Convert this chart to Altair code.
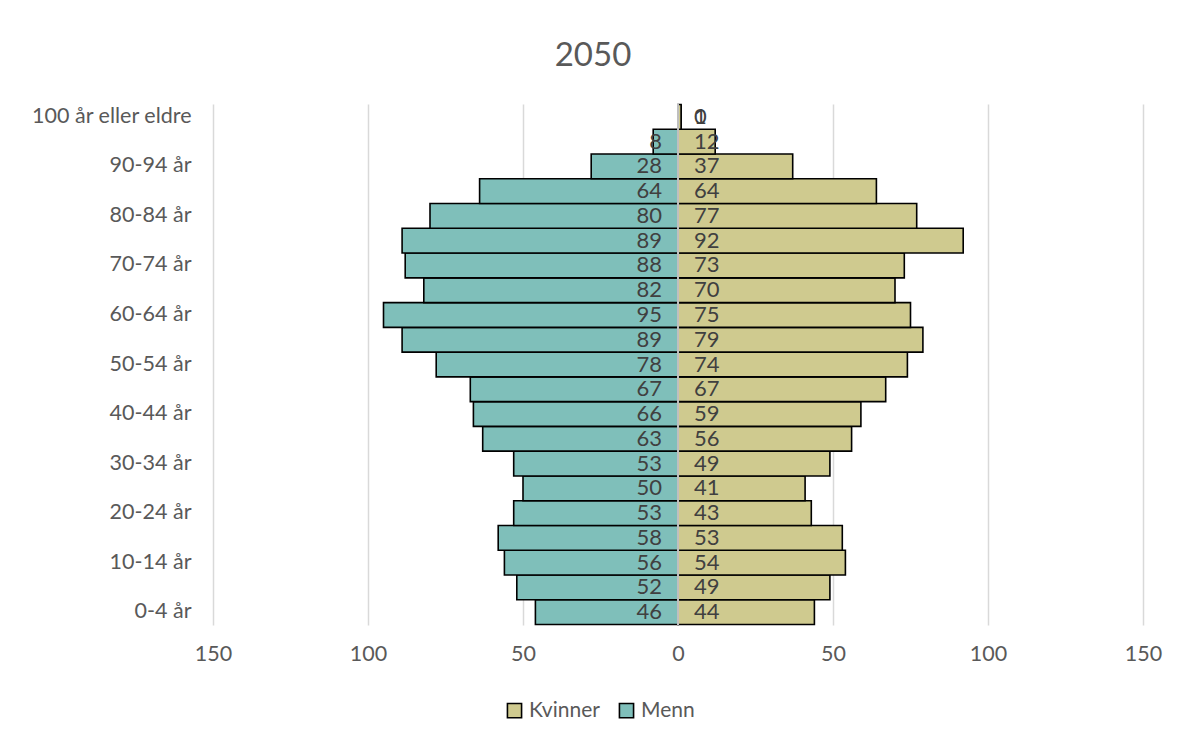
import altair as alt
import pandas as pd

ages = ["0-4 år", "5-9 år", "10-14 år", "15-19 år", "20-24 år", "25-29 år",
        "30-34 år", "35-39 år", "40-44 år", "45-49 år", "50-54 år", "55-59 år",
        "60-64 år", "65-69 år", "70-74 år", "75-79 år", "80-84 år", "85-89 år",
        "90-94 år", "95-99 år", "100 år eller eldre"]
menn = [46, 52, 56, 58, 53, 50, 53, 63, 66, 67, 78, 89, 95, 82, 88, 89, 80, 64, 28, 8, 0]
kvinner = [44, 49, 54, 53, 43, 41, 49, 56, 59, 67, 74, 79, 75, 70, 73, 92, 77, 64, 37, 12, 1]
shown_labels = ages[::2]

rows = []
for a, m, k in zip(ages, menn, kvinner):
    rows.append({"age": a, "sex": "Menn", "v": m})
    rows.append({"age": a, "sex": "Kvinner", "v": k})
df = pd.DataFrame(rows)

FONT = "Lato"
order = list(reversed(ages))

base = alt.Chart(df).transform_calculate(
    xv="datum.sex === 'Menn' ? -datum.v : datum.v"
)

y_enc = alt.Y("age:N", sort=order, title=None,
              scale=alt.Scale(paddingInner=0, paddingOuter=0.02),
              axis=alt.Axis(values=shown_labels, labelFontSize=21.5, labelColor="#595959",
                            labelFont=FONT, ticks=False, domain=False, labelPadding=22,
                            labelLimit=300))

x_enc = alt.X("xv:Q", title=None,
              scale=alt.Scale(domain=[-150, 150], nice=False),
              axis=alt.Axis(values=[-150, -100, -50, 0, 50, 100, 150],
                            labelExpr="abs(datum.value)", labelFontSize=21.5,
                            labelColor="#595959", labelFont=FONT, ticks=False,
                            domain=False, grid=True, gridColor="#d9d9d9",
                            gridWidth=1.5, labelPadding=18, labelFlush=False))

bars = base.mark_bar(stroke="black", strokeWidth=1.6).encode(
    x=x_enc,
    y=y_enc,
    color=alt.Color("sex:N",
                    scale=alt.Scale(domain=["Kvinner", "Menn"], range=["#cfca8f", "#7fbfba"]),
                    legend=alt.Legend(title=None, orient="none", direction="horizontal",
                                      legendX=291, legendY=596, symbolType="square",
                                      symbolSize=200, symbolStrokeColor="black",
                                      symbolStrokeWidth=1.6, labelFontSize=21,
                                      labelFont=FONT, labelColor="#595959",
                                      columnPadding=16, symbolOpacity=1)),
)

zero = alt.Chart(pd.DataFrame({"z": [0]})).mark_rule(color="#bfbfbf", strokeWidth=2).encode(
    x=alt.X("z:Q", scale=alt.Scale(domain=[-150, 150], nice=False))
)

lab_left = base.transform_filter("datum.sex === 'Menn' && datum.v > 0").mark_text(
    align="right", baseline="middle", dx=-16, fontSize=22, font=FONT, color="#404040"
).encode(x=alt.datum(0), y=alt.Y("age:N", sort=order), text="v:Q")

lab_right = base.transform_filter("datum.sex === 'Kvinner' || datum.v === 0").mark_text(
    align="left", baseline="middle", dx=16, fontSize=22, font=FONT, color="#404040"
).encode(x=alt.datum(0), y=alt.Y("age:N", sort=order), text="v:Q")

chart = alt.layer(bars, zero, lab_left, lab_right).properties(
    width=930, height=521,
    background="white",
    title=alt.TitleParams("2050", fontSize=33, font=FONT, color="#595959",
                          fontWeight="normal", anchor="middle", dx=-85, offset=30),
    autosize=alt.AutoSizeParams(type="none"),
    padding={"left": 205, "top": 96, "right": 31, "bottom": 109},
).configure_view(strokeWidth=0, stroke=None)

chart.save("out.html", embed_options={"renderer": "svg", "actions": False})
